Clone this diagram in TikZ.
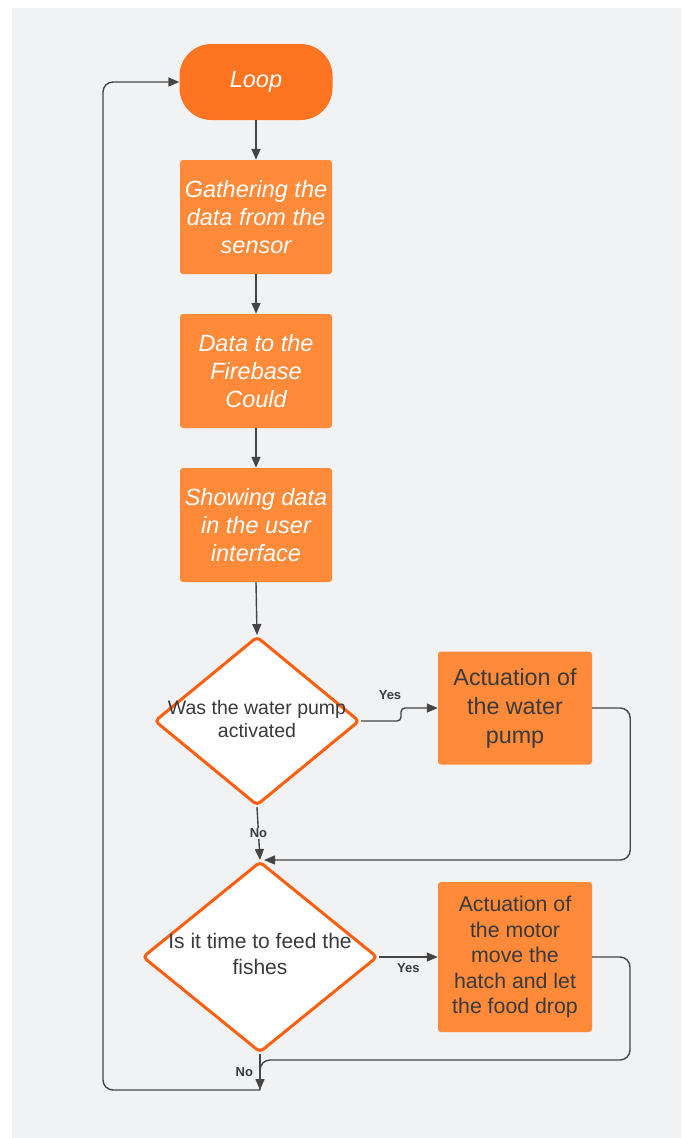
\documentclass[tikz,border=0pt]{standalone}
\usepackage{fontspec}
\setmainfont{Liberation Sans}
\usetikzlibrary{shapes.geometric,arrows.meta}
\definecolor{bggrey}{HTML}{F1F2F4}
\definecolor{loopor}{HTML}{FF7420}
\definecolor{boxor}{HTML}{FF8A3A}
\definecolor{edgeor}{HTML}{FF5F0F}
\definecolor{linegrey}{HTML}{454545}
\definecolor{txtgrey}{HTML}{3A3A3A}

\begin{document}
\begin{tikzpicture}[x=1pt,y=-1pt,
    stepbox/.style={rectangle,rounded corners=3pt,fill=boxor,minimum width=152pt,minimum height=114pt,inner sep=0pt,align=center,text=white,font=\fontsize{23.5}{28}\selectfont\itshape},
    actbox/.style={rectangle,rounded corners=3pt,fill=boxor,minimum width=154pt,inner sep=0pt,align=center,text=txtgrey},
    question/.style={diamond,draw=edgeor,line width=3pt,fill=white,rounded corners=4pt,inner sep=0pt},
    flow/.style={draw=linegrey,line width=1.4pt},
    arr/.style={flow,-{Triangle[length=11pt,width=9pt]}},
    answer/.style={font=\fontsize{13}{15}\selectfont\bfseries,text=txtgrey}]
    \fill[white] (0,0) rectangle (681,1138);
    \fill[bggrey] (12,8) rectangle (681,1138);
    \node[fill=loopor,rounded corners=32pt,minimum width=153pt,minimum height=76pt,text=white,font=\fontsize{23.5}{28}\selectfont\itshape] (loop) at (256,82) {Loop};
    \node[stepbox] (gather) at (256,217) {Gathering the\\data from the\\sensor};
    \node[stepbox] (firebase) at (256,371) {Data to the\\Firebase\\Could};
    \node[stepbox] (showing) at (256,525) {Showing data\\in the user\\interface};
    \node[question,minimum width=205pt,minimum height=169pt,
        label={[text=txtgrey,font=\fontsize{19.5}{23}\selectfont,align=center,yshift=2pt]center:{Was the water pump\\activated}}] (pump) at (257,721) {};
    \node[question,minimum width=235pt,minimum height=191pt,
        label={[text=txtgrey,font=\fontsize{21}{26}\selectfont,align=center,yshift=3pt]center:{Is it time to feed the\\fishes}}] (feed) at (260,957) {};
    \node[actbox,minimum height=113pt,font=\fontsize{23.3}{29}\selectfont] (water) at (515,708) {Actuation of\\the water\\pump};
    \node[actbox,minimum height=150pt,font=\fontsize{21.3}{25.5}\selectfont] (motor) at (515,957) {Actuation of\\the motor\\move the\\hatch and let\\the food drop};
    \node[answer] (yes1) at (390,695) {Yes};
    \coordinate (rail) at (630,1060);
    \coordinate (join) at (260,1090);
    \coordinate (back) at (103,1090);
    \draw[arr] (loop.south) -- (gather.north);
    \draw[arr] (gather.south) -- (firebase.north);
    \draw[arr] (firebase.south) -- (showing.north);
    \draw[arr] (showing.south) -- (pump.north);
    \draw[arr,rounded corners=4pt] (pump.east) -- ++(40,0) |- (water.west);
    \draw[arr,rounded corners=10pt] (water.east) -- ++(38,0) |- ([xshift=4pt]feed.north);
    \draw[arr] (pump.south) -- node[answer,fill=bggrey,inner sep=1pt] (no1) {No} (feed.north);
    \draw[arr] (feed.east) -- node[answer,below=3pt] (yes2) {Yes} (motor.west);
    \draw[flow,rounded corners=10pt] (motor.east) -| (rail) -| (join);
    \draw[arr] (feed.south) -- node[answer,left=3pt] (no2) {No} (join);
    \draw[arr,rounded corners=10pt] (join) -- (back) |- (loop.west);
\end{tikzpicture}
\end{document}
